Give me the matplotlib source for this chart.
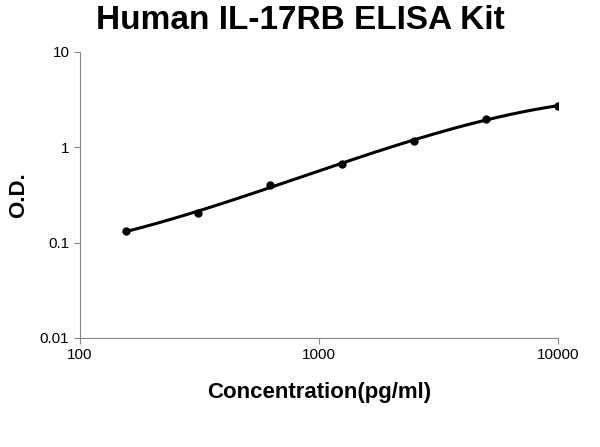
import numpy as np
import matplotlib
matplotlib.use("Agg")
import matplotlib.pyplot as plt

plt.rcParams['font.family'] = ['Liberation Sans', 'DejaVu Sans']

conc = [156.25, 312.5, 625, 1250, 2500, 5000, 10000]
od = [0.132, 0.205, 0.40, 0.67, 1.16, 1.98, 2.71]

fig = plt.figure(figsize=(6, 4.47), dpi=100)
ax = fig.add_axes([0.133, 0.244, 0.797, 0.64])

lx, ly = np.log10(conc), np.log10(od)
c = np.polyfit(lx, ly, 3)
xs = np.linspace(lx[0], lx[-1], 200)
ax.plot(10**xs, 10**np.polyval(c, xs), color='black', lw=2.2)
ax.plot(conc, od, 'o', color='black', ms=5)

ax.set_xscale('log'); ax.set_yscale('log')
ax.set_xlim(100, 10000); ax.set_ylim(0.01, 10)
ax.set_xticks([100, 1000, 10000]); ax.set_xticklabels(['100', '1000', '10000'])
ax.set_yticks([0.01, 0.1, 1, 10]); ax.set_yticklabels(['0.01', '0.1', '1', '10'])
ax.minorticks_off()
for s in ['top', 'right']:
    ax.spines[s].set_visible(False)
ax.spines['left'].set_color('#888888'); ax.spines['bottom'].set_color('#888888')
ax.tick_params(labelsize=11, color='#888888', direction='out', length=4)
ax.set_xlabel('Concentration(pg/ml)', fontsize=16, fontweight='bold', labelpad=14)
ax.set_ylabel('O.D.', fontsize=16, fontweight='bold', labelpad=8)
fig.text(0.5, 0.955, 'Human IL-17RB ELISA Kit', ha='center', va='center', fontsize=24, fontweight='bold')
fig.savefig('out.png', dpi=100)
